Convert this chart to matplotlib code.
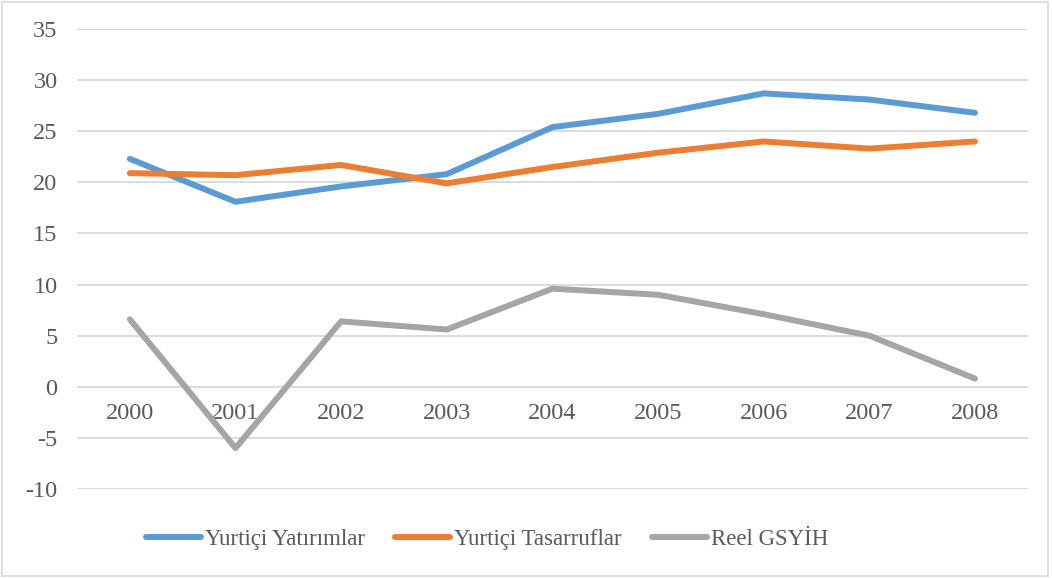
import matplotlib.pyplot as plt
from matplotlib.patches import Rectangle

plt.rcParams['font.family'] = ['Liberation Serif', 'DejaVu Serif']

# Data
years = ['2000', '2001', '2002', '2003', '2004', '2005', '2006', '2007', '2008']
yatirimlar = [22.3, 18.1, 19.6, 20.8, 25.4, 26.7, 28.7, 28.1, 26.8]
tasarruflar = [20.9, 20.7, 21.7, 19.9, 21.5, 22.9, 24.0, 23.3, 24.0]
gsyih = [6.6, -6.0, 6.4, 5.6, 9.6, 9.0, 7.1, 5.0, 0.8]
yticks = [-10, -5, 0, 5, 10, 15, 20, 25, 30, 35]

text_color = '#595959'
grid_color = '#D9D9D9'

fig = plt.figure(figsize=(10.52, 5.78), dpi=100)
ax = fig.add_axes([0.0732, 0.154, 0.9038, 0.7958])

x = range(len(years))
ax.plot(x, yatirimlar, color='#5B9BD5', lw=4.3, solid_capstyle='round', label='Yurtiçi Yatırımlar')
ax.plot(x, tasarruflar, color='#ED7D31', lw=4.3, solid_capstyle='round', label='Yurtiçi Tasarruflar')
ax.plot(x, gsyih, color='#A5A5A5', lw=4.3, solid_capstyle='round', label='Reel GSYİH')

ax.set_xlim(-0.5, len(years) - 0.5)
ax.set_ylim(-10, 35)
ax.set_yticks(yticks)
ax.set_yticklabels([str(v) for v in yticks])
ax.grid(axis='y', color=grid_color, lw=1.3)
ax.set_axisbelow(True)

# category axis crosses at zero
ax.set_xticks(list(x))
ax.set_xticklabels(years)
ax.spines['bottom'].set_position(('data', 0))
for s in ax.spines.values():
    s.set_visible(False)
ax.tick_params(axis='both', length=0, labelsize=17.5, labelcolor=text_color)
ax.tick_params(axis='x', pad=12)
ax.tick_params(axis='y', pad=14)

leg = fig.legend(loc='center', bbox_to_anchor=(0.463, 0.066), ncol=3, frameon=False,
                 fontsize=16.5, labelcolor=text_color, handlelength=2.4,
                 handletextpad=0.18, columnspacing=1.3)

# outer chart border
fig.patches.append(Rectangle((0.002, 0.004), 0.994, 0.992, transform=fig.transFigure,
                             fill=False, edgecolor='#D9D9D9', lw=1.2))

fig.savefig('out.png', dpi=100)
